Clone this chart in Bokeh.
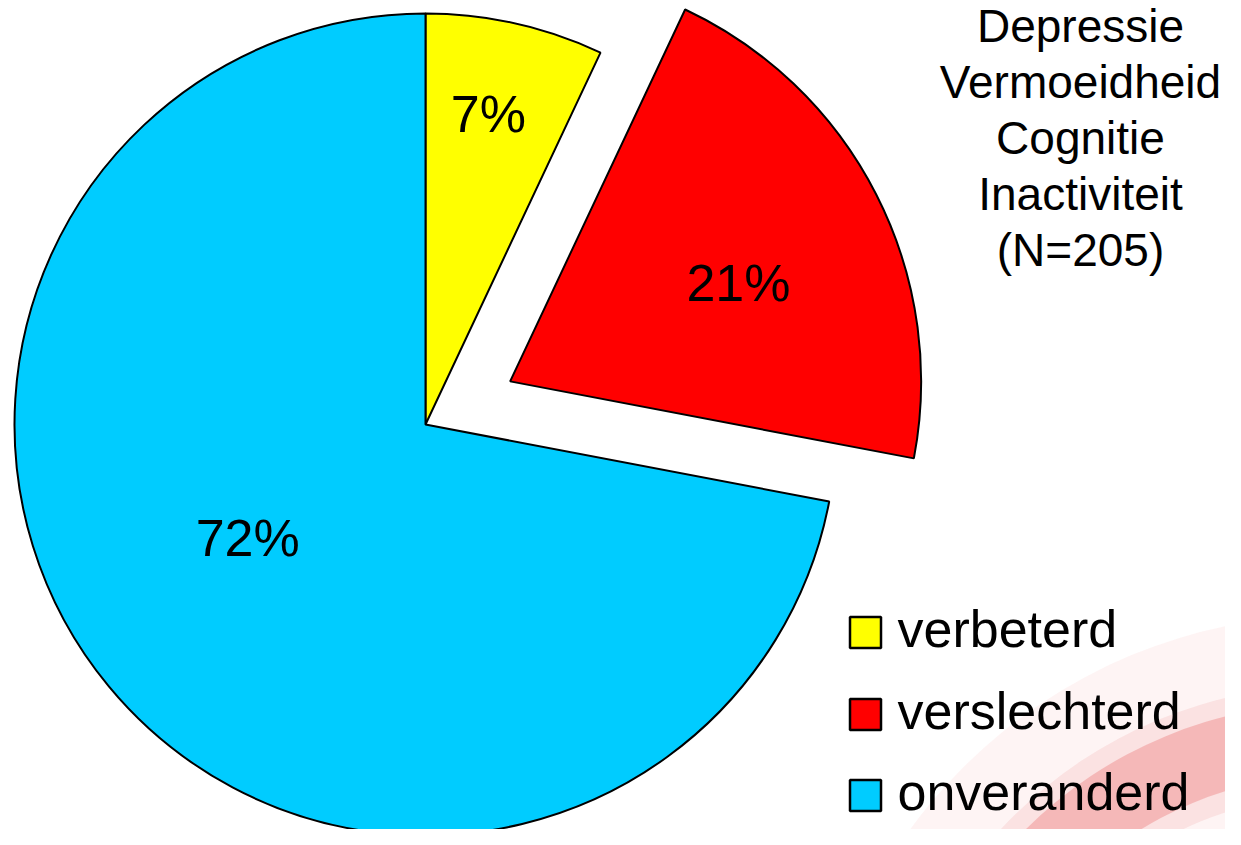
import numpy as np
from bokeh.plotting import figure
from bokeh.models import Range1d, ColumnDataSource
from bokeh.embed import file_html
from bokeh.resources import INLINE
from bokeh.core.properties import value

# ---------------- data ----------------
categories = ["verbeterd", "verslechterd", "onveranderd"]
percentages = [7, 21, 72]
slice_labels = ["7%", "21%", "72%"]
colors = ["#FFFF00", "#FF0000", "#00CCFF"]
exploded = [False, True, False]
title_lines = ["Depressie", "Vermoeidheid", "Cognitie", "Inactiviteit", "(N=205)"]

# ---------------- layout (pixel coordinates, origin top-left) ----------------
W, H = 1241, 845
M = 8
PW, PH = W - 2 * M, H - 2 * M
FONT = "Liberation Sans"

def sy(y):  # screen y (down) -> data y (up)
    return H - y

cx, cy = 425, sy(424)
R = 411
explode_dist = 95
label_rfrac = [0.76, 0.60, 0.52]
label_dang = [1.0, -4.8, -5.9]

p = figure(width=PW, height=PH, output_backend="svg", toolbar_location=None,
           x_range=Range1d(0, PW), y_range=Range1d(H - PH, H),
           x_axis_location=None, y_axis_location=None, min_border=0,
           background_fill_color="white", border_fill_color="white")
p.grid.visible = False
p.outline_line_color = None

# faint background swirl (slide decoration)
p.annular_wedge(x=[1330], y=[sy(1135)], inner_radius=300, outer_radius=520,
                start_angle=0, end_angle=2 * np.pi, color="#fdf0f0", alpha=0.7, line_color=None)
p.annular_wedge(x=[1330], y=[sy(1135)], inner_radius=340, outer_radius=450,
                start_angle=0, end_angle=2 * np.pi, color="#f9d6d6", alpha=0.6, line_color=None)
p.annular_wedge(x=[1330], y=[sy(1135)], inner_radius=360, outer_radius=432,
                start_angle=0, end_angle=2 * np.pi, color="#f2a6a6", alpha=0.7, line_color=None)

# pie slices, clockwise from 12 o'clock
total = float(sum(percentages))
a = np.pi / 2
xs, ys, starts, ends, lx, ly = [], [], [], [], [], []
for i, pct in enumerate(percentages):
    span = pct / total * 2 * np.pi
    a0, a1 = a, a - span
    mid = (a0 + a1) / 2
    ox = explode_dist * np.cos(mid) if exploded[i] else 0.0
    oy = explode_dist * np.sin(mid) if exploded[i] else 0.0
    xs.append(cx + ox)
    ys.append(cy + oy)
    starts.append(a1)
    ends.append(a0)
    la = mid + np.deg2rad(label_dang[i])
    lx.append(cx + ox + label_rfrac[i] * R * np.cos(la))
    ly.append(cy + oy + label_rfrac[i] * R * np.sin(la))
    a = a1

src = ColumnDataSource(dict(x=xs, y=ys, start=starts, end=ends, color=colors,
                            lx=lx, ly=ly, label=slice_labels, cat=categories))
p.wedge(x="x", y="y", radius=R, start_angle="start", end_angle="end",
        fill_color="color", line_color="black", line_width=2, source=src)
p.text(x="lx", y="ly", text="label", source=src, text_font=value(FONT),
       text_font_size="52px", text_align="center", text_baseline="middle",
       text_color="black", y_offset=-5)

# title block (top right), centres of the lines
t_mid = [29, 85, 141, 197, 253]
p.text(x=[1080] * len(title_lines), y=[sy(v) for v in t_mid], text=title_lines,
       text_font=value(FONT), text_font_size="46px", text_align="center",
       text_baseline="middle", text_color="black", y_offset=-4)

# legend
leg_cy = [632, 714, 795]
p.rect(x=[865] * 3, y=[sy(v) for v in leg_cy], width=31, height=31,
       fill_color=colors, line_color="black", line_width=2.5)
p.text(x=[897] * 3, y=[sy(v) for v in leg_cy], text=categories,
       text_font=value(FONT), text_font_size="52px", text_align="left",
       text_baseline="middle", text_color="black", y_offset=-4)

open("out.html", "w").write(file_html(p, INLINE))
